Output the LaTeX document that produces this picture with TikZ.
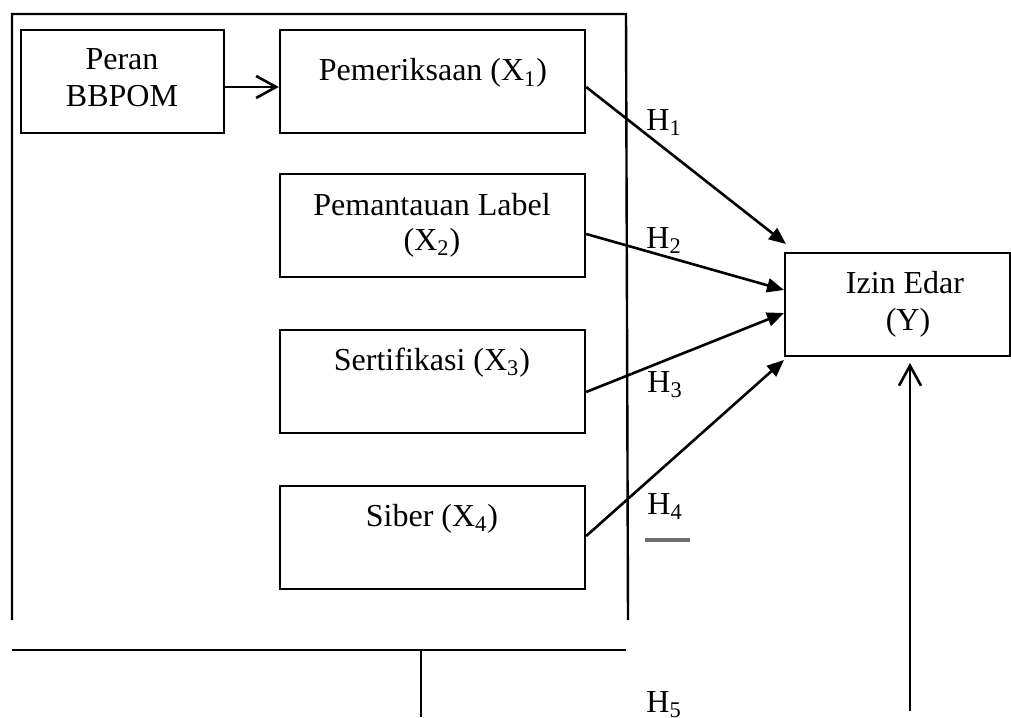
\documentclass[tikz,border=0pt]{standalone}
\usepackage{fontspec}
\setmainfont{Liberation Serif}
\usetikzlibrary{arrows.meta,calc}
\begin{document}
\begin{tikzpicture}[x=0.5pt,y=-0.5pt,
  box/.style={draw,line width=1.2pt,inner sep=0pt,minimum height=51.5pt},
  txt/.style={inner sep=0pt,anchor=base,font=\fontsize{16}{19}\selectfont},
  hl/.style={inner sep=0pt,anchor=base west,font=\fontsize{16}{19}\selectfont},
  arr/.style={line width=1.3pt,-{Triangle[length=8.5pt,width=7pt]}},
  oarr/.style={line width=1.3pt,-{Straight Barb[length=10pt,width=11pt,line width=1.3pt]}},
  frame/.style={line width=1.2pt}]
\useasboundingbox (0,0) rectangle (1011,717);
% frame lines
\draw[frame] (12,620) -- (12,14) -- (626,14) -- (628,620);
\draw[frame] (12,650) -- (626,650);
\draw[frame] (421,650) -- (421,717);
% boxes
\node[box,minimum width=101.5pt] (peran) at (122.5,81.5) {};
\node[box,minimum width=152.5pt] (x1) at (432.5,81.5) {};
\node[box,minimum width=152.5pt] (x2) at (432.5,225.5) {};
\node[box,minimum width=152.5pt] (x3) at (432.5,381.5) {};
\node[box,minimum width=152.5pt] (x4) at (432.5,537.5) {};
\node[box,minimum width=112.5pt] (y) at (897.5,304.5) {};
% texts
\node[txt] (tperan) at (122,70) {Peran};
\node[txt] (tbbpom) at (122,106) {BBPOM};
\node[txt] (tx1) at (433,81) {Pemeriksaan (X\textsubscript{1})};
\node[txt] (tx2a) at (432,215) {Pemantauan Label};
\node[txt] (tx2b) at (432,250) {(X\textsubscript{2})};
\node[txt] (tx3) at (432,370) {Sertifikasi (X\textsubscript{3})};
\node[txt] (tx4) at (432,526) {Siber (X\textsubscript{4})};
\node[txt] (tya) at (905,293) {Izin Edar};
\node[txt] (tyb) at (908,330) {(Y)};
% H labels
\node[hl] (h1) at (646,130) {H\textsubscript{1}};
\node[hl] (h2) at (646,248) {H\textsubscript{2}};
\node[hl] (h3) at (647,392) {H\textsubscript{3}};
\node[hl] (h4) at (647,514) {H\textsubscript{4}};
\node[hl] (h5) at (646,712) {H\textsubscript{5}};
\draw[line width=1.6pt,draw={rgb,255:red,110;green,110;blue,110}] (645,540) -- (690,540);
% connector end points
\coordinate (t1) at (786,244);
\coordinate (t2) at (784,290);
\coordinate (t3) at (784,313);
\coordinate (t4) at (784,360);
\coordinate (ybot) at (910,711);
\coordinate (ytip) at (910,363);
% connectors
\draw[oarr] (peran.east |- 0,87) -- (x1.west |- 0,87);
\draw[arr] (x1.east |- 0,87) -- (t1);
\draw[arr] (x2.east |- 0,234) -- (t2);
\draw[arr] (x3.east |- 0,392) -- (t3);
\draw[arr] (x4.east |- 0,536) -- (t4);
\draw[oarr] (ybot) -- (ytip);
\end{tikzpicture}
\end{document}
